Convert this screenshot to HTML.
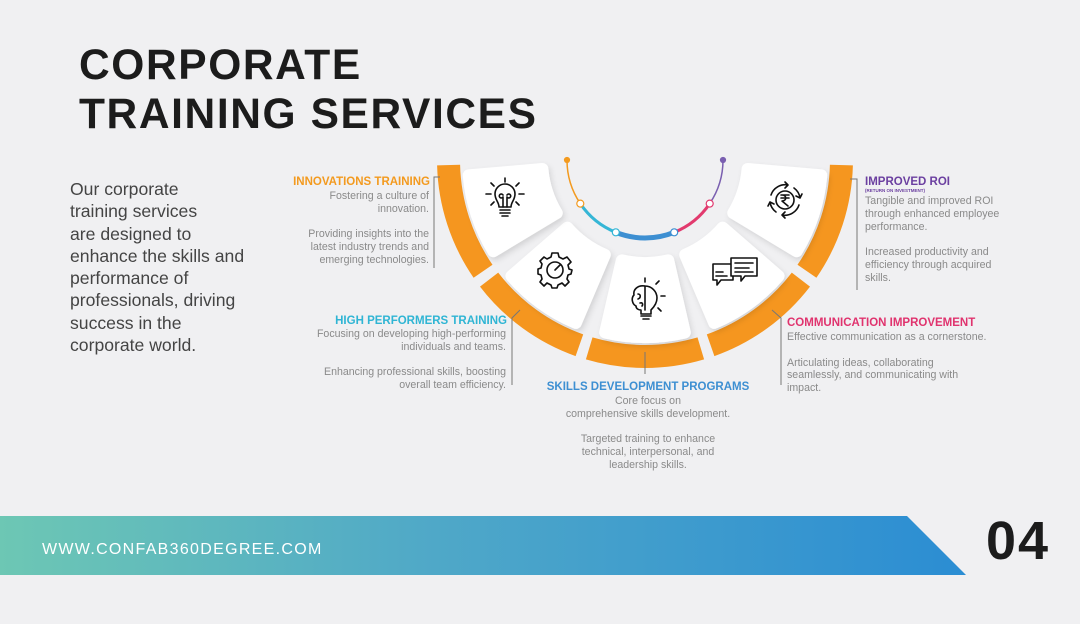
<!DOCTYPE html>
<html><head><meta charset="utf-8"><style>
body{margin:0;width:1080px;height:624px;background:#f0f0f2;overflow:hidden;position:relative;font-family:"Liberation Sans",sans-serif}
.t{position:absolute;font-weight:bold;color:#1c1c1c;font-size:42.5px;letter-spacing:1.6px;left:79px;line-height:45px}
.p{position:absolute;left:70px;top:178px;font-size:17.6px;line-height:22.3px;color:#444}
.h{position:absolute;font-weight:bold;font-size:11.5px;white-space:nowrap}
.b{position:absolute;font-size:10.6px;line-height:12.8px;color:#8a8a8a}
.r{text-align:right}.c{text-align:center}
</style></head><body>
<div class="t" style="top:43px">CORPORATE</div>
<div class="t" style="top:92px">TRAINING SERVICES</div>
<div class="p">Our corporate<br>training services<br>are designed to<br>enhance the skills and<br>performance of<br>professionals, driving<br>success in the<br>corporate world.</div>

<svg width="1080" height="624" style="position:absolute;left:0;top:0">
<defs>
<linearGradient id="g" x1="0" x2="1"><stop offset="0" stop-color="#6dc7b4"/><stop offset="0.45" stop-color="#4fa8c8"/><stop offset="1" stop-color="#2b8dd3"/></linearGradient>
<filter id="sh" x="-20%" y="-20%" width="140%" height="140%"><feDropShadow dx="2" dy="3" stdDeviation="3" flood-color="#000" flood-opacity="0.12"/></filter>
</defs>
<g id="segs"></g>
<g fill="none" stroke-linecap="round">
<path id="a1" stroke="#f39a1f" stroke-width="1.5"/>
<path id="a2" stroke="#35b6d6" stroke-width="3"/>
<path id="a3" stroke="#3d8fd2" stroke-width="5"/>
<path id="a4" stroke="#e23a6e" stroke-width="3"/>
<path id="a5" stroke="#7a5fb0" stroke-width="1.5"/>
</g>
<g id="dots"></g>
<g stroke="#777" stroke-width="1" fill="none">
<polyline points="440,177 434,177 434,268"/>
<polyline points="520,310 512,318 512,385"/>
<line x1="645" y1="352" x2="645" y2="374"/>
<polyline points="772,310 781,318 781,385"/>
<polyline points="850,179 857,179 857,290"/>
</g>
<g fill="none" stroke="#111" stroke-width="1.6" stroke-linecap="round" stroke-linejoin="round">
 <g transform="translate(505,200)">
  <path d="M-6,7 C-6,2 -10,0 -10,-6 A10,10 0 0 1 10,-6 C10,0 6,2 6,7 Z"/>
  <path d="M-5,10 H5 M-5,13 H5 M-3,16 H3 M-2,7 V-3 M2,7 V-3 M-2,-3 A2,2 0 1 1 -2,-5 M2,-3 A2,2 0 1 0 2,-5"/>
  <path d="M-19,-6 H-14 M14,-6 H19 M-14,-17 L-11,-14 M14,-17 L11,-14 M-14,5 L-11,2 M14,5 L11,2 M0,-22 V-18"/>
 </g>
 <g transform="translate(555,270)">
  <path d="M-3,-17 H3 L4,-13 L8,-11 L12,-13 L16,-8 L13,-5 L14,-1 L17,0 L16,4 L13,5 L12,9 L14,12 L10,16 L7,13 L3,15 L2,18 H-3 L-4,15 L-8,13 L-11,16 L-15,12 L-13,9 L-14,5 L-17,4 L-17,-1 L-14,-2 L-13,-6 L-15,-9 L-11,-13 L-8,-11 L-4,-13 Z"/>
  <circle r="8"/>
  <path d="M0,0 L5,-5"/>
 </g>
 <g transform="translate(645,300)">
  <path d="M0,-14 C-8,-15 -12,-10 -11,-5 C-14,-2 -13,4 -9,6 C-9,9 -6,10 -4,10 L-4,14 H6 V10 C8,8 12,4 12,-2 A12,12 0 0 0 0,-14 Z"/>
  <path d="M0,-14 V10 M-4,16 H6 M-2,19 H4 M-7,-6 C-4,-6 -4,-2 -7,-1 M-5,3 C-2,2 -2,5 -3,6"/>
  <path d="M0,-22 V-18 M11,-16 L14,-19 M16,-4 H20 M13,8 L16,11"/>
 </g>
 <g transform="translate(735,272)">
  <path d="M-22,-8 H-2 V8 H-14 L-18,13 V8 H-22 Z"/>
  <path d="M-4,-14 H22 V4 H10 L6,9 V4 H-4 Z" fill="#fff"/>
  <path d="M0,-9 H18 M0,-4 H14 M0,0 H18 M-19,0 H-12 M-19,4 H-8"/>
 </g>
 <g transform="translate(785,200)">
  <circle r="9"/>
  <path d="M-4,-5 H4 M-4,-2 H4 M-3,-5 C2,-5 2,1 -3,1 L3,6"/>
  <path d="M-14,-5 A15,15 0 0 1 3,-15 M3,-15 L0,-18 M3,-15 L0,-12"/>
  <path d="M14,5 A15,15 0 0 1 -3,15 M-3,15 L0,18 M-3,15 L0,12"/>
  <path d="M9,-12 A15,15 0 0 1 15,-2 M15,-2 L17,-6 M15,-2 L11,-4"/>
  <path d="M-9,12 A15,15 0 0 1 -15,2 M-15,2 L-17,6 M-15,2 L-11,4"/>
 </g>
</g>
<polygon points="0,516 907,516 966,575 0,575" fill="url(#g)"/>
<text x="42" y="554" fill="#fff" font-size="16" letter-spacing="1.3" font-family="Liberation Sans">WWW.CONFAB360DEGREE.COM</text>
<text x="986" y="559" fill="#1c1c1c" font-size="54" font-weight="bold" letter-spacing="2" font-family="Liberation Sans">04</text>
</svg>

<div class="h r" style="right:650px;top:176px;color:#f39a1f">INNOVATIONS TRAINING</div>
<div class="b r" style="right:651px;top:190px;width:160px">Fostering a culture of<br>innovation.<br><br>Providing insights into the<br>latest industry trends and<br>emerging technologies.</div>

<div class="h r" style="right:573px;top:315px;color:#2fb5d4">HIGH PERFORMERS TRAINING</div>
<div class="b r" style="right:574px;top:328px;width:250px">Focusing on developing high-performing<br>individuals and teams.<br><br>Enhancing professional skills, boosting<br>overall team efficiency.</div>

<div class="h c" style="left:498px;width:300px;top:381px;color:#3d8fd2">SKILLS DEVELOPMENT PROGRAMS</div>
<div class="b c" style="left:498px;width:300px;top:395px">Core focus on<br>comprehensive skills development.<br><br>Targeted training to enhance<br>technical, interpersonal, and<br>leadership skills.</div>

<div class="h" style="left:787px;top:317px;color:#e0336e">COMMUNICATION IMPROVEMENT</div>
<div class="b" style="left:787px;top:331px;width:210px">Effective communication as a cornerstone.<br><br>Articulating ideas, collaborating<br>seamlessly, and communicating with<br>impact.</div>

<div class="h" style="left:865px;top:176px;color:#6b3fa0">IMPROVED ROI</div>
<div class="h" style="left:865px;top:188px;color:#6b3fa0;font-size:4.5px">(RETURN ON INVESTMENT)</div>
<div class="b" style="left:865px;top:195px;width:170px">Tangible and improved ROI<br>through enhanced employee<br>performance.<br><br>Increased productivity and<br>efficiency through acquired<br>skills.</div>

<script>
var cx=645,cy=160;
function P(r,a){a=a*Math.PI/180;return (cx+r*Math.cos(a)).toFixed(1)+","+(cy+r*Math.sin(a)).toFixed(1);}
function sector(r1,r2,a1,a2){return "M"+P(r2,a1)+" A"+r2+","+r2+" 0 0 1 "+P(r2,a2)+" L"+P(r1,a2)+" A"+r1+","+r1+" 0 0 0 "+P(r1,a1)+" Z";}
var s="";
for(var i=0;i<5;i++){
 var a=36*i;
 s+='<path d="'+sector(185,208,a+1.5,a+34.5)+'" fill="#f5961f"/>';
 s+='<path d="'+sector(103,177,a+5,a+31)+'" fill="#fff" stroke="#fff" stroke-width="12" stroke-linejoin="round" filter="url(#sh)"/>';
}
document.getElementById("segs").innerHTML=s;
var R=78,b=[180,146,112,68,34,0];
function arc(a1,a2){return "M"+P(R,a1)+" A"+R+","+R+" 0 0 0 "+P(R,a2);}
var ids=["a1","a2","a3","a4","a5"];
for(var k=0;k<5;k++)document.getElementById(ids[k]).setAttribute("d",arc(b[k],b[k+1]));
var cols=["#f39a1f","#f39a1f","#35b6d6","#3d8fd2","#e23a6e","#7a5fb0"],d="";
for(var k=0;k<6;k++){var p=P(R,b[k]).split(",");var rr=(k==0||k==5)?2.5:3.5;
 d+='<circle cx="'+p[0]+'" cy="'+p[1]+'" r="'+rr+'" fill="'+((k==0||k==5)?cols[k]:"#fff")+'" stroke="'+cols[k]+'" stroke-width="1.2"/>';}
document.getElementById("dots").innerHTML=d;
</script>
</body></html>
